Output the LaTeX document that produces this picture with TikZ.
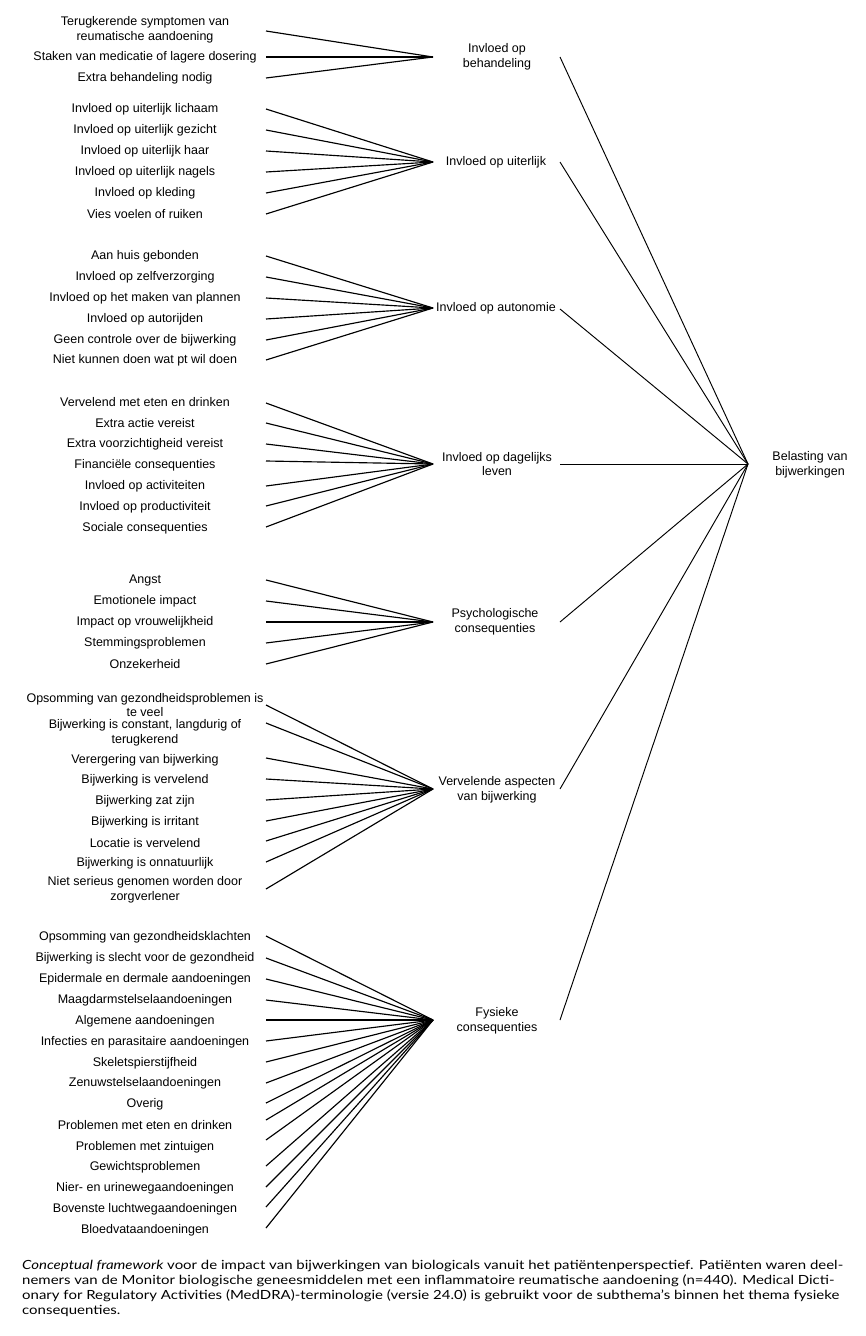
\documentclass[tikz,border=0pt]{standalone}
\usepackage{fontspec}
\setmainfont{Liberation Sans}
\newfontfamily\capfont{Lato}
\newlength\capwidth
\newcommand\capsize{\capfont\fontsize{12.6}{15}\selectfont}
\newcommand\caplineone{\textit{Conceptual framework} voor de impact van bijwerkingen van biologicals vanuit het patiëntenperspectief. Patiënten waren deel-}
\begin{document}
\settowidth\capwidth{\capsize\caplineone}
\pgfmathsetmacro\capsx{821/\capwidth}
\begin{tikzpicture}[x=1pt,y=-1pt,
  lbl/.style={font=\fontsize{12.5}{14.5}\selectfont, align=center, inner sep=0pt},
  ln/.style={line width=1.15pt, black},
  hl/.style={line width=0.95pt, black},
  captxt/.style={font=\capsize, anchor=base west, inner sep=0pt}
]
\useasboundingbox[fill=white] (0,0) rectangle (865,1336);
\coordinate (hub) at (748,464);
\node[lbl] (top) at (810,465) {Belasting van\\bijwerkingen};

% Group 1
\coordinate (c1) at (433,57);
\node[lbl] (m1) at (497,57) {Invloed op\\behandeling};
\coordinate (s1) at (560,57);
\foreach \y/\ly/\t [count=\i] in {
  30/31/{Terugkerende symptomen van\\reumatische aandoening},
  57/57/{Staken van medicatie of lagere dosering},
  78/78/{Extra behandeling nodig}} {
  \node[lbl] (g1l\i) at (145,\y) {\t};
  \coordinate (g1p\i) at (266,\ly);
  \draw[ln] (g1p\i) -- (c1);
}

% Group 2
\coordinate (c2) at (433,162);
\node[lbl] (m2) at (496,162) {Invloed op uiterlijk};
\coordinate (s2) at (560,162);
\foreach \y/\ly/\t [count=\i] in {
  109/109/{Invloed op uiterlijk lichaam},
  130/130/{Invloed op uiterlijk gezicht},
  151/151/{Invloed op uiterlijk haar},
  172/172/{Invloed op uiterlijk nagels},
  193/193/{Invloed op kleding},
  214/214/{Vies voelen of ruiken}} {
  \node[lbl] (g2l\i) at (145,\y) {\t};
  \coordinate (g2p\i) at (266,\ly);
  \draw[ln] (g2p\i) -- (c2);
}

% Group 3
\coordinate (c3) at (433,308);
\node[lbl] (m3) at (496,308) {Invloed op autonomie};
\coordinate (s3) at (560,309);
\foreach \y/\ly/\t [count=\i] in {
  256/256/{Aan huis gebonden},
  277/277/{Invloed op zelfverzorging},
  298/298/{Invloed op het maken van plannen},
  319/319/{Invloed op autorijden},
  340/340/{Geen controle over de bijwerking},
  360/360/{Niet kunnen doen wat pt wil doen}} {
  \node[lbl] (g3l\i) at (145,\y) {\t};
  \coordinate (g3p\i) at (266,\ly);
  \draw[ln] (g3p\i) -- (c3);
}

% Group 4
\coordinate (c4) at (433,464);
\node[lbl] (m4) at (497,464) {Invloed op dagelijks\\leven};
\coordinate (s4) at (560,464);
\foreach \y/\ly/\t [count=\i] in {
  402/403/{Vervelend met eten en drinken},
  423/423/{Extra actie vereist},
  444/444/{Extra voorzichtigheid vereist},
  465/461/{Financiële consequenties},
  486/486/{Invloed op activiteiten},
  507/506/{Invloed op productiviteit},
  528/527/{Sociale consequenties}} {
  \node[lbl] (g4l\i) at (145,\y) {\t};
  \coordinate (g4p\i) at (266,\ly);
  \draw[ln] (g4p\i) -- (c4);
}

% Group 5
\coordinate (c5) at (433,622);
\node[lbl] (m5) at (495,622) {Psychologische\\consequenties};
\coordinate (s5) at (560,622);
\foreach \y/\ly/\t [count=\i] in {
  580/580/{Angst},
  601/601/{Emotionele impact},
  622/622/{Impact op vrouwelijkheid},
  643/643/{Stemmingsproblemen},
  664/664/{Onzekerheid}} {
  \node[lbl] (g5l\i) at (145,\y) {\t};
  \coordinate (g5p\i) at (266,\ly);
  \draw[ln] (g5p\i) -- (c5);
}

% Group 6
\coordinate (c6) at (433,789);
\node[lbl] (m6) at (497,790) {Vervelende aspecten\\van bijwerking};
\coordinate (s6) at (560,789);
\foreach \y/\ly/\t [count=\i] in {
  705/705/{Opsomming van gezondheidsproblemen is\\te veel},
  733/723/{Bijwerking is constant, langdurig of\\terugkerend},
  760/758/{Verergering van bijwerking},
  780/779/{Bijwerking is vervelend},
  801/800/{Bijwerking zat zijn},
  822/821/{Bijwerking is irritant},
  843/841/{Locatie is vervelend},
  863/862/{Bijwerking is onnatuurlijk},
  890/889/{Niet serieus genomen worden door\\zorgverlener}} {
  \node[lbl] (g6l\i) at (145,\y) {\t};
  \coordinate (g6p\i) at (266,\ly);
  \draw[ln] (g6p\i) -- (c6);
}

% Group 7
\coordinate (c7) at (433,1020);
\node[lbl] (m7) at (497,1021) {Fysieke\\consequenties};
\coordinate (s7) at (560,1020);
\foreach \y/\ly/\t [count=\i] in {
  937/936/{Opsomming van gezondheidsklachten},
  958/958/{Bijwerking is slecht voor de gezondheid},
  979/979/{Epidermale en dermale aandoeningen},
  1000/1000/{Maagdarmstelselaandoeningen},
  1021/1020/{Algemene aandoeningen},
  1042/1041/{Infecties en parasitaire aandoeningen},
  1063/1062/{Skeletspierstijfheid},
  1083/1083/{Zenuwstelselaandoeningen},
  1104/1103/{Overig},
  1125/1120/{Problemen met eten en drinken},
  1147/1140/{Problemen met zintuigen},
  1167/1166/{Gewichtsproblemen},
  1188/1187/{Nier- en urinewegaandoeningen},
  1209/1207/{Bovenste luchtwegaandoeningen},
  1230/1228/{Bloedvataandoeningen}} {
  \node[lbl] (g7l\i) at (145,\y) {\t};
  \coordinate (g7p\i) at (266,\ly);
  \draw[ln] (g7p\i) -- (c7);
}

% mid to hub
\foreach \k in {1,...,7} {
  \draw[hl] (s\k) -- (hub);
}

% caption
\node[captxt] (cap1) at (22,1269) {\scalebox{\capsx}[1]{\caplineone}};
\node[captxt] (cap2) at (22,1284) {\scalebox{\capsx}[1]{nemers van de Monitor biologische geneesmiddelen met een inflammatoire reumatische aandoening (n=440). Medical Dicti-}};
\node[captxt] (cap3) at (22,1299) {\scalebox{\capsx}[1]{onary for Regulatory Activities (MedDRA)-terminologie (versie 24.0) is gebruikt voor de subthema’s binnen het thema fysieke}};
\node[captxt] (cap4) at (22,1314) {\scalebox{\capsx}[1]{consequenties.}};
\end{tikzpicture}
\end{document}
